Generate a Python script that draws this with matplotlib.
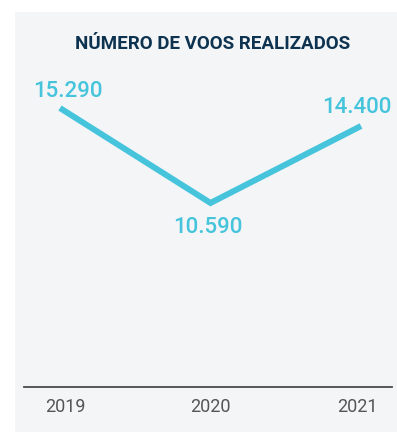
import matplotlib
matplotlib.use('Agg')
import matplotlib.pyplot as plt
from matplotlib.patches import Rectangle
from matplotlib.transforms import ScaledTranslation

# dados
anos = ['2019', '2020', '2021']
voos = [15290, 10590, 14400]

titulo = 'NÚMERO DE VOOS REALIZADOS'

COR_LINHA = '#45c4dc'
COR_TITULO = '#0d3350'
COR_FUNDO = '#f3f5f7'

plt.rcParams['font.family'] = ['Roboto', 'DejaVu Sans']


def fmt_br(v):
    """formata com ponto como separador de milhar"""
    return f'{v:,}'.replace(',', '.')


fig = plt.figure(figsize=(3.97, 4.32), dpi=100)
fig.patch.set_facecolor('white')

# painel de fundo
fig.add_artist(Rectangle((15 / 397, 0), 1, (432 - 12) / 432,
                         transform=fig.transFigure, facecolor=COR_FUNDO,
                         edgecolor='none', zorder=-10))

ax = fig.add_axes([24 / 397, 1 - 386.5 / 432, (392 - 24) / 397, (386.5 - 60) / 432])
ax.set_facecolor('none')

x = list(range(len(anos)))
ax.plot(x, voos, color=COR_LINHA, linewidth=4.3, solid_capstyle='butt',
        solid_joinstyle='miter')

# rótulos de valor
offsets = [(6, 12), (-2, -18), (-3, 13)]
for xi, v, (dx, dy) in zip(x, voos, offsets):
    ax.annotate(fmt_br(v), (xi, v), xytext=(dx, dy), textcoords='offset points',
                ha='center', va='center', fontsize=16, color=COR_LINHA,
                fontweight='medium')

ax.set_xlim(-36 / 150.5, 2 + 31 / 150.5)
ax.set_ylim(1500, 17670)

for s in ['top', 'right', 'left']:
    ax.spines[s].set_visible(False)
ax.spines['bottom'].set_color('#4a4a4a')
ax.spines['bottom'].set_linewidth(1.3)

ax.set_yticks([])
ax.set_xticks(x)
ax.set_xticklabels(anos, fontsize=13, color='#555555')
ax.tick_params(axis='x', length=0, pad=8.5)

# pequeno ajuste nos rótulos das pontas
labels = ax.get_xticklabels()
labels[0].set_transform(labels[0].get_transform() + ScaledTranslation(5 / 100, 0, fig.dpi_scale_trans))
labels[2].set_transform(labels[2].get_transform() + ScaledTranslation(-4 / 100, 0, fig.dpi_scale_trans))

fig.text(213 / 397, 1 - 44 / 432, titulo, ha='center', va='center',
         fontsize=13.5, fontweight='bold', color=COR_TITULO)

plt.savefig('out.png', dpi=100)
plt.close()
